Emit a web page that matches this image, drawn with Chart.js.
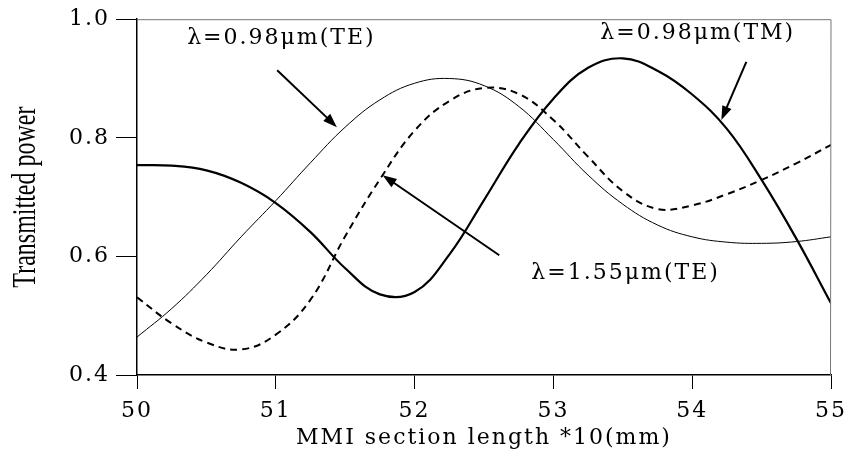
<!DOCTYPE html>
<html>
<head>
<meta charset="utf-8">
<script src="https://cdn.jsdelivr.net/npm/chart.js@4/dist/chart.umd.min.js"></script>
<style>
  html, body { margin: 0; padding: 0; background: #fff; }
  #wrap { width: 854px; height: 459px; position: relative; }
</style>
</head>
<body>
<div id="wrap"><canvas id="mmi"></canvas></div>
<script>
// MMI section length (*10 mm)
const lengths = [50, 50.25, 50.5, 50.75, 51, 51.25, 51.5, 51.75, 52, 52.25, 52.5,
                 52.75, 53, 53.25, 53.5, 53.75, 54, 54.25, 54.5, 54.75, 55];
// transmitted power
const te098 = [0.464, 0.512, 0.569, 0.633, 0.694, 0.758, 0.818, 0.864, 0.892, 0.900, 0.888,
               0.853, 0.797, 0.737, 0.688, 0.653, 0.633, 0.624, 0.622, 0.625, 0.633];
const tm098 = [0.754, 0.753, 0.745, 0.724, 0.690, 0.641, 0.580, 0.536, 0.540, 0.603, 0.695,
               0.789, 0.866, 0.918, 0.934, 0.913, 0.873, 0.815, 0.729, 0.630, 0.521];
const te155 = [0.531, 0.487, 0.455, 0.443, 0.468, 0.527, 0.634, 0.730, 0.812, 0.862, 0.884,
               0.874, 0.830, 0.768, 0.710, 0.680, 0.686, 0.705, 0.729, 0.757, 0.788];
const xTicks = [50, 51, 52, 53, 54, 55];
const yTicks = [0.4, 0.6, 0.8, 1.0];
const yTitle = 'Transmitted power';

const pts = arr => arr.map((v, i) => ({ x: lengths[i], y: v }));

// labels + arrows, in data coordinates
const notes = [
  { text: 'λ=0.98μm(TE)', at: [51.04, 0.968], from: [51.01, 0.914], to: [51.44, 0.818] },
  { text: 'λ=0.98μm(TM)', at: [54.04, 0.976], from: [54.39, 0.928], to: [54.21, 0.830] },
  { text: 'λ=1.55μm(TE)', at: [53.52, 0.572], from: [52.61, 0.602], to: [51.77, 0.737] }
];

const notePlugin = {
  id: 'notes',
  beforeDraw(chart) {
    // wide lettering like the original typeface
    chart.ctx.letterSpacing = '2px';
  },
  afterDatasetsDraw(chart) {
    const { ctx, chartArea: a, scales: { x, y } } = chart;
    ctx.save();
    // thin top / right frame
    ctx.strokeStyle = '#777';
    ctx.lineWidth = 1;
    ctx.beginPath();
    ctx.moveTo(a.left, a.top + 0.5);
    ctx.lineTo(a.right, a.top + 0.5);
    ctx.lineTo(a.right - 0.5, a.bottom);
    ctx.stroke();

    ctx.fillStyle = '#000';
    ctx.strokeStyle = '#000';
    ctx.font = '22px "DejaVu Serif"';
    ctx.letterSpacing = '2px';
    ctx.textAlign = 'center';
    ctx.textBaseline = 'middle';
    notes.forEach(n => {
      ctx.fillText(n.text, x.getPixelForValue(n.at[0]), y.getPixelForValue(n.at[1]));
      const x0 = x.getPixelForValue(n.from[0]), y0 = y.getPixelForValue(n.from[1]);
      const x1 = x.getPixelForValue(n.to[0]), y1 = y.getPixelForValue(n.to[1]);
      const ang = Math.atan2(y1 - y0, x1 - x0);
      const head = 14, half = 5;
      ctx.lineWidth = 2;
      ctx.beginPath();
      ctx.moveTo(x0, y0);
      ctx.lineTo(x1 - Math.cos(ang) * head * 0.8, y1 - Math.sin(ang) * head * 0.8);
      ctx.stroke();
      ctx.beginPath();
      ctx.moveTo(x1, y1);
      ctx.lineTo(x1 - Math.cos(ang) * head - Math.sin(ang) * half,
                 y1 - Math.sin(ang) * head + Math.cos(ang) * half);
      ctx.lineTo(x1 - Math.cos(ang) * head + Math.sin(ang) * half,
                 y1 - Math.sin(ang) * head - Math.cos(ang) * half);
      ctx.closePath();
      ctx.fill();
    });

    // y title: tall, narrow Times-like lettering
    ctx.letterSpacing = '0px';
    ctx.translate(26, (a.top + a.bottom) / 2);
    ctx.rotate(-Math.PI / 2);
    ctx.scale(1, 1.4);
    ctx.font = '24px "Liberation Serif"';
    ctx.fillText(yTitle, 0, 0);
    ctx.restore();
  }
};

const ctx = document.getElementById('mmi').getContext('2d');
const chart = new Chart(ctx, {
  type: 'line',
  data: {
    datasets: [
      { label: 'λ=0.98μm(TE)', data: pts(te098), borderColor: '#000', borderWidth: 1 },
      { label: 'λ=0.98μm(TM)', data: pts(tm098), borderColor: '#000', borderWidth: 2.2 },
      { label: 'λ=1.55μm(TE)', data: pts(te155), borderColor: '#000', borderWidth: 2, borderDash: [7, 5] }
    ]
  },
  options: {
    responsive: true,
    maintainAspectRatio: false,
    animation: false,
    layout: { padding: { left: 0, right: 17, top: 19, bottom: 0 } },
    elements: {
      point: { radius: 0 },
      line: { tension: 0.4, fill: false }
    },
    plugins: { legend: { display: false }, tooltip: { enabled: false } },
    scales: {
      x: {
        type: 'linear',
        min: 50, max: 55,
        afterFit: s => { s.height = 84; },
        afterBuildTicks: s => { s.ticks = xTicks.map(v => ({ value: v })); },
        grid: { drawOnChartArea: false, drawTicks: true, tickLength: 14, tickColor: '#000' },
        border: { display: true, color: '#000', width: 1.5 },
        ticks: { color: '#000', padding: 9, font: { family: 'DejaVu Serif', size: 22 } },
        title: {
          display: true, text: 'MMI section length *10(mm)', color: '#000',
          font: { family: 'DejaVu Serif', size: 22 }, padding: { top: 0, bottom: 8 }
        }
      },
      y: {
        min: 0.4, max: 1.0,
        afterFit: s => { s.width = 137; },
        afterBuildTicks: s => { s.ticks = yTicks.map(v => ({ value: v })); },
        grid: { drawOnChartArea: false, drawTicks: true, tickLength: 21, tickColor: '#000' },
        border: { display: true, color: '#000', width: 1.5 },
        ticks: {
          color: '#000', padding: 6, font: { family: 'DejaVu Serif', size: 22 },
          callback: v => v.toFixed(1)
        },
        title: { display: false }
      }
    }
  },
  plugins: [notePlugin]
});
</script>
</body>
</html>
